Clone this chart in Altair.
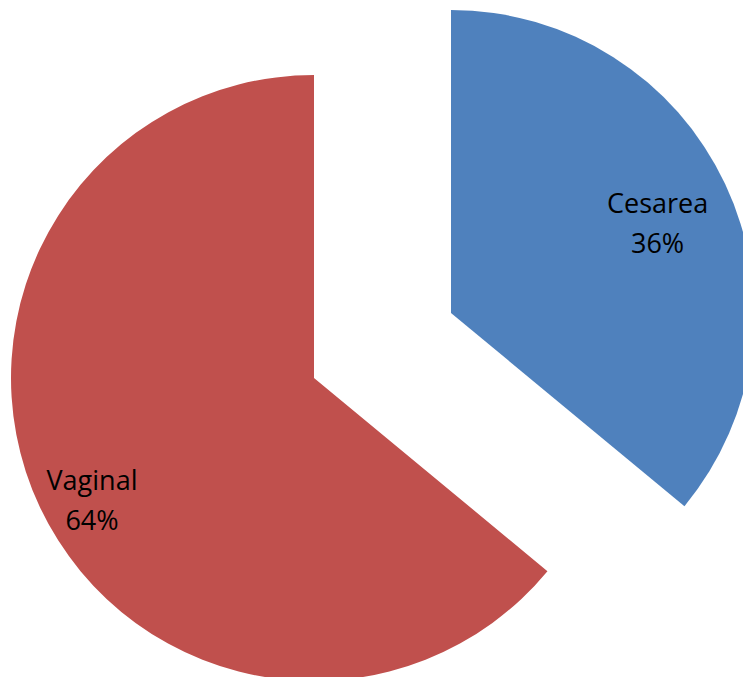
import altair as alt
import pandas as pd

categories = ["Cesarea", "Vaginal"]
values = [36, 64]
colors = ["#4F81BD", "#C0504D"]

df = pd.DataFrame({"cat": categories, "val": values, "order": [0, 1]})

# slice centres (exploded pie)
centres = {"Cesarea": (451, 313), "Vaginal": (314, 378)}
R = 303
label_r = {"Cesarea": 225, "Vaginal": 252}
label_shift = {"Cesarea": (3, -12), "Vaginal": (6, -3)}

base = alt.Chart(df).transform_joinaggregate(
    total="sum(val)"
).transform_window(
    cum="sum(val)", sort=[alt.SortField("order")]
).transform_calculate(
    start="(datum.cum - datum.val) / datum.total * 2 * PI",
    end="datum.cum / datum.total * 2 * PI",
    mid="(datum.cum - datum.val / 2) / datum.total * 2 * PI",
    label="datum.cat + '\\n' + round(datum.val / datum.total * 100) + '%'",
)

layers = []
for cat, col in zip(categories, colors):
    cx, cy = centres[cat]
    sx, sy = label_shift[cat]
    b = base.transform_filter(alt.datum.cat == cat)
    arc = b.mark_arc(color=col, outerRadius=R).encode(
        theta=alt.Theta("start:Q", scale=None),
        theta2="end:Q",
        x=alt.value(cx),
        y=alt.value(cy),
    )
    txt = b.mark_text(
        font="Open Sans", fontSize=27, color="black", lineBreak="\n",
        lineHeight=40, baseline="middle", align="center",
        radius=label_r[cat], dx=sx, dy=sy,
    ).encode(
        theta=alt.Theta("mid:Q", scale=None),
        text="label:N",
        x=alt.value(cx),
        y=alt.value(cy),
    )
    layers += [arc, txt]

chart = alt.layer(*layers).properties(
    width=743, height=677, padding=0, autosize="none", background="white"
).configure_view(stroke=None)

chart.save("out.html", embed_options={"renderer": "svg", "actions": False})
